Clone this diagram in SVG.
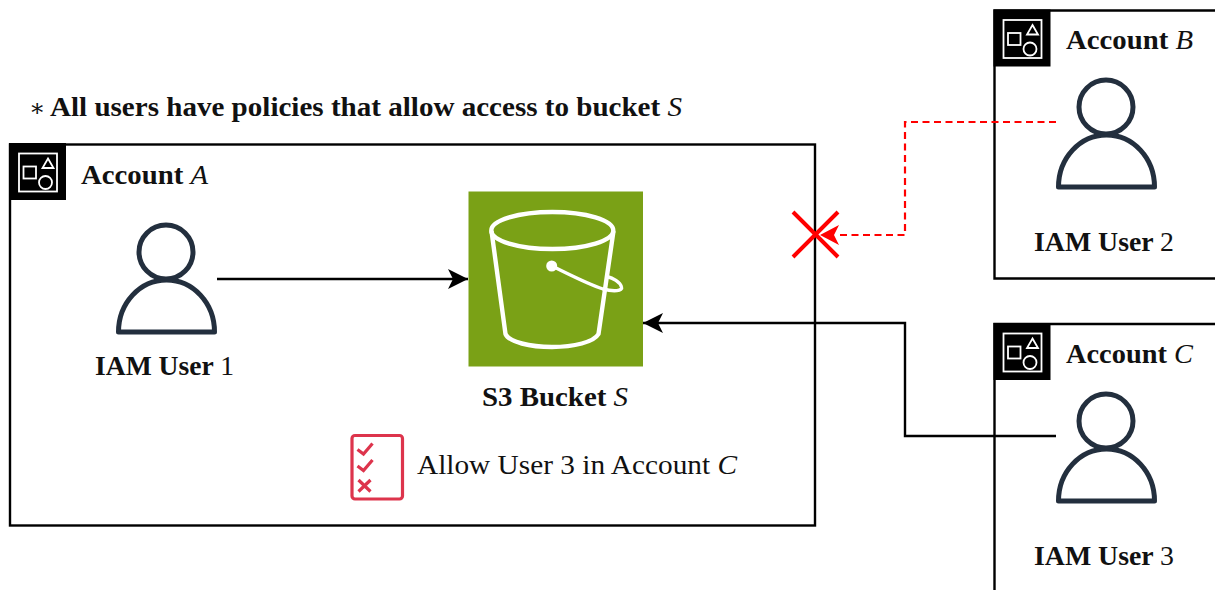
<svg xmlns="http://www.w3.org/2000/svg" width="1215" height="590" viewBox="0 0 1215 590">
<style>
text{font-family:"Liberation Serif","DejaVu Serif",serif;font-size:28px;fill:#111;}
.b{font-weight:700;}
.m{font-style:italic;font-weight:400;}
.n{font-weight:400;}
.acct{fill:#fff;stroke:#000;stroke-width:2.4;}
.user{fill:none;stroke:#232F3E;stroke-width:5;stroke-linejoin:round;}
.conn{fill:none;stroke:#000;stroke-width:2.4;}
.red{fill:none;stroke:#f00;stroke-width:2.2;stroke-dasharray:7 4.5;}
.ic{fill:none;stroke:#fff;stroke-width:1.8;}
.bk{fill:none;stroke:#fff;stroke-width:4.4;stroke-linejoin:round;}
.chk{fill:none;stroke:#DD344C;stroke-width:3.2;}
</style>
<defs>
<g id="badge">
<rect x="9" y="143" width="57" height="57" fill="#000"/>
<rect class="ic" x="19" y="153.500" width="38" height="38"/>
<rect class="ic" x="23.500" y="166.500" width="12.500" height="12"/>
<path class="ic" d="M48 158.500L53.500 168H42.500Z"/>
<circle class="ic" cx="45.500" cy="182.500" r="6.500"/>
</g>
<g id="person">
<circle class="user" cx="166" cy="252" r="27"/>
<path class="user" d="M118.500 332C118.500 303 140 280 166.500 280C193 280 214.500 303 214.500 332Z"/>
</g>
<marker id="ah" markerUnits="userSpaceOnUse" markerWidth="22" markerHeight="22" refX="20" refY="11" orient="auto"><path d="M0 1L20 11L0 21L5 11Z" fill="#000"/></marker>
</defs>
<g id="note">
<text class="n" x="29" y="116" style="font-size:24px">∗</text>
<text class="b" x="50" y="116" textLength="632" lengthAdjust="spacingAndGlyphs">All users have policies that allow access to bucket <tspan class="m">S</tspan></text>
</g>
<g id="account-a">
<rect class="acct" x="10" y="144.500" width="805" height="381"/>
<use href="#badge"/>
<text class="b" x="81" y="184" textLength="127" lengthAdjust="spacingAndGlyphs">Account <tspan class="m">A</tspan></text>
</g>
<g id="account-b">
<path class="acct" d="M1216 10.500H994.500V278.500H1216"/>
<use href="#badge" x="984.500" y="-133.500"/>
<text class="b" x="1066" y="49" textLength="127" lengthAdjust="spacingAndGlyphs">Account <tspan class="m">B</tspan></text>
</g>
<g id="account-c">
<path class="acct" d="M1216 324H994.500V592"/>
<use href="#badge" x="984.500" y="180"/>
<text class="b" x="1066" y="363" textLength="127" lengthAdjust="spacingAndGlyphs">Account <tspan class="m">C</tspan></text>
</g>
<g id="user-1">
<use href="#person"/>
<text class="b" x="95" y="375" textLength="139" lengthAdjust="spacingAndGlyphs">IAM User <tspan class="n">1</tspan></text>
</g>
<g id="user-2">
<use href="#person" x="940" y="-145"/>
<text class="b" x="1034" y="251" textLength="140" lengthAdjust="spacingAndGlyphs">IAM User <tspan class="n">2</tspan></text>
</g>
<g id="user-3">
<use href="#person" x="940" y="169"/>
<text class="b" x="1034" y="565" textLength="140" lengthAdjust="spacingAndGlyphs">IAM User <tspan class="n">3</tspan></text>
</g>
<g id="bucket">
<rect x="468.500" y="191.500" width="174.500" height="175" fill="#7AA116"/>
<ellipse class="bk" cx="552.300" cy="230.500" rx="61" ry="18.500"/>
<path class="bk" d="M491.500 231L505.500 334C509 342 530 347 552 347C574 347 594 342 598.500 334L613.500 231"/>
<circle cx="551.700" cy="266" r="5.500" fill="#fff"/>
<path class="bk" style="stroke-width:3.400" d="M552 266C570 275 590 285 603 289C614 292 623 291 621.500 287C620 282 613 278 607 276.500"/>
<text class="b" x="482" y="406" textLength="146" lengthAdjust="spacingAndGlyphs">S3 Bucket <tspan class="m">S</tspan></text>
</g>
<g id="policy">
<rect class="chk" x="352" y="435.500" width="50.500" height="63.500" rx="3"/>
<path class="chk" d="M357.500 449.500L363.500 454L372.500 443.500M357.500 466L363.500 470.500L372.500 460M358.500 480L370.500 491.500M370.500 480L358.500 491.500"/>
<text class="n" x="417" y="474" textLength="320" lengthAdjust="spacingAndGlyphs">Allow User 3 in Account <tspan class="m">C</tspan></text>
</g>
<g id="connectors">
<path class="conn" d="M217 279H468" marker-end="url(#ah)"/>
<path class="conn" d="M1056 436H905V323H643" marker-end="url(#ah)"/>
<path class="red" d="M1056 122H905V235H840"/>
<path d="M839 225L820 235L839 245L834 235Z" fill="#f00"/>
<path d="M793 212L838 257M838 212L793 257" fill="none" stroke="#f00" stroke-width="4"/>
</g>
</svg>
